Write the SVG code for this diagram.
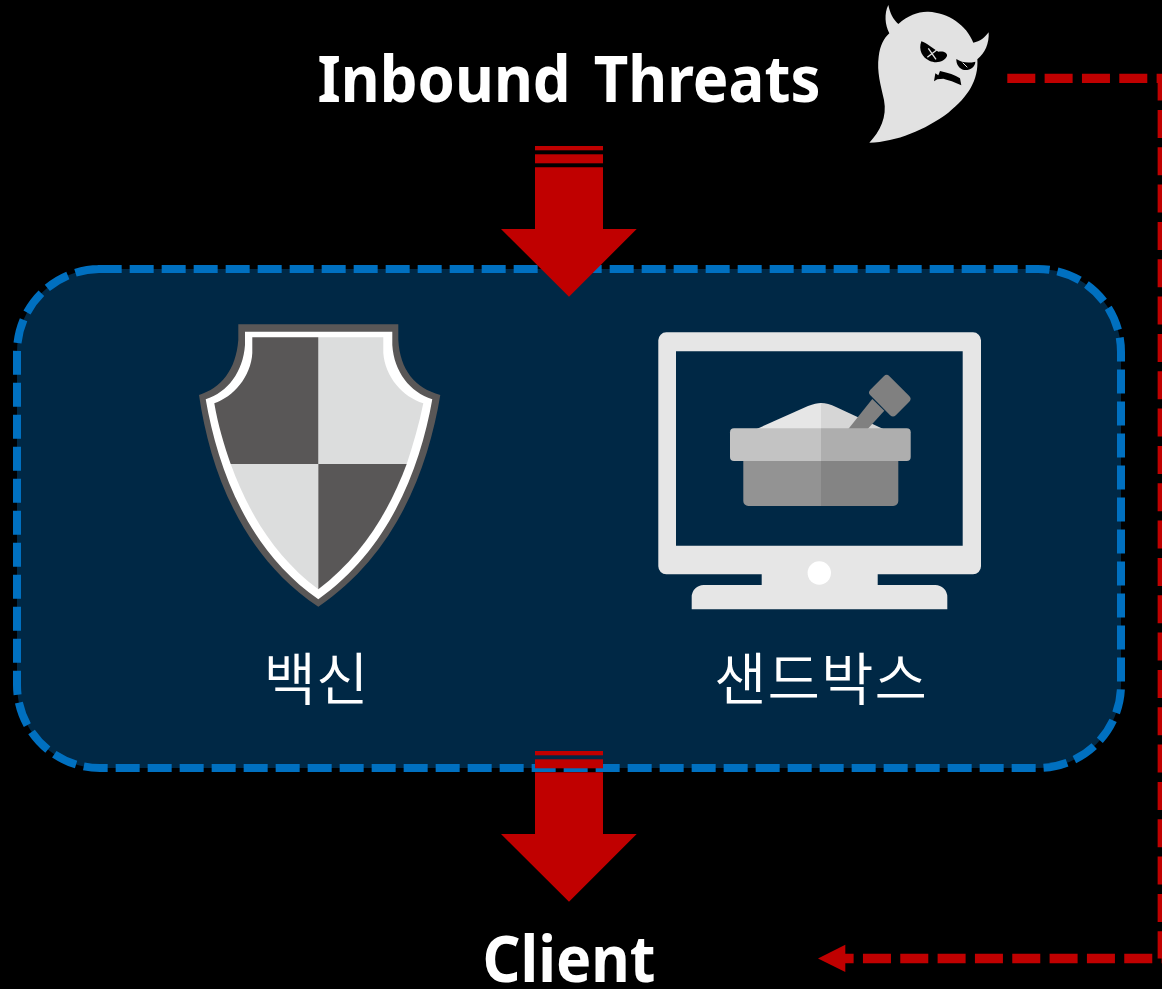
<svg xmlns="http://www.w3.org/2000/svg" width="1162" height="989" viewBox="0 0 1162 989">
<style>
.title{font-family:"Noto Sans","Open Sans","Liberation Sans",sans-serif;font-weight:700;font-size:64px;fill:#fff;text-anchor:middle}
.ko{font-family:"Noto Sans CJK KR","Noto Sans",sans-serif;font-size:57px;font-weight:350;fill:#fff;text-anchor:middle}
.red{fill:#c00000}
.dash{fill:none;stroke:#c00000;stroke-width:9.33;stroke-dasharray:28 9.33}
</style>
<defs>
<g id="blockArrow">
<rect class="red" x="535" y="146" width="68" height="4.3"/>
<rect class="red" x="535" y="154.3" width="68" height="9"/>
<polygon class="red" points="535,167.3 603,167.3 603,229 636.7,229 569,296.7 501,229 535,229"/>
</g>
</defs>
<rect width="1162" height="989" fill="#000"/>
<g id="sandbox-group">
<path d="M97.67,269 H1038 A83,83 0 0 1 1121,352 V685 A83,83 0 0 1 1038,768 H100 A83,83 0 0 1 17,685 V352 A83,83 0 0 1 100,269 Z" fill="#002845" stroke="#0070c0" stroke-width="8" stroke-dasharray="24 8"/>
</g>
<g id="threat-ghost">
<g transform="translate(860,0) scale(.33333)">
<path fill="#e2e2e2" d="M28,428 C60,395 82,350 72,300 C62,255 50,215 56,170 C60,135 72,115 88,100 C75,75 72,40 85,15 C90,40 100,58 115,72 C145,45 175,34 205,35 C265,38 320,75 340,128 C360,125 375,112 386,97 C388,130 375,160 352,178 C356,240 325,290 265,338 C195,390 110,425 28,428 Z"/>
<path fill="#000" d="M184,124 C200,128 217,145 235,155 C250,152 263,158 261,168 C255,184 230,192 208,182 C188,174 174,150 184,124 Z"/>
<path fill="none" stroke="#e2e2e2" stroke-width="4" d="M205,145 L228,178 M230,150 L202,172"/>
<path fill="#000" d="M289,177 C305,188 325,190 346,185 C346,200 330,212 312,210 C298,207 288,192 289,177 Z"/>
<path fill="none" stroke="#e2e2e2" stroke-width="3" d="M308,188 L322,202"/>
<path fill="#000" d="M222,244 L226,220 L235,226 L240,213 C265,218 285,225 300,235 L304,256 C285,246 265,240 250,236 L232,238 Z"/>
</g>
</g>
<g id="antivirus">
<path fill="#595757" d="M238.3,324.3 H398.3 V340 C400,370 415,388 440.3,395 C428,470 395,555 318.3,606.7 C241,555 210,470 199,395 C221,388 236,370 238.3,340 Z"/>
<path fill="#fff" d="M245,331.7 H392.3 V345 C394,372 410,392 432.3,399.3 C420,470 388,550 318.3,599.3 C248,550 218,470 205.7,399.3 C228,392 243,372 245,345 Z"/>
<path fill="#dcdddd" d="M318.3,337.3 H383.3 V353 C385,377 403,397 423.3,403.3 C419,425 413,445 406.7,464 H318.3 Z"/>
<path fill="#595757" d="M252.3,337.3 H318.3 V464 H230.7 C224,445 218,425 214.3,403.3 C233,397 251,377 252.3,353 Z"/>
<path fill="#dcdddd" d="M230.7,464 H318.3 V589.3 C275,557 248,512 230.7,464 Z"/>
<path fill="#595757" d="M318.3,464 H406.7 C389,512 361,557 318.3,589.3 Z"/>
<text class="ko" x="316" y="700">백신</text>
</g>
<g id="sandbox">
<path fill="#e6e6e6" fill-rule="evenodd" d="M666.3,332.3 H973 A8,8 0 0 1 981,340.3 V566.3 A8,8 0 0 1 973,574.3 H877.7 V585 H935.3 A12,12 0 0 1 947.3,597 V609.3 H691.7 V597 A12,12 0 0 1 703.7,585 H761.7 V574.3 H666.3 A8,8 0 0 1 658.3,566.3 V340.3 A8,8 0 0 1 666.3,332.3 Z M676,351.3 V545.7 H962.7 V351.3 Z"/>
<circle cx="819.3" cy="573" r="11.7" fill="#fff"/>
<path fill="#e6e6e6" d="M756.7,429 L808,406 Q816,403 821,403 V429 Z"/>
<path fill="#d6d6d6" d="M821,403 Q828,403 836,407 L883.3,429 H821 Z"/>
<polygon fill="#808080" points="848.3,429 867.7,429 884.3,410.7 872.3,399"/>
<rect x="-18" y="-13.5" width="36" height="27" rx="4" fill="#808080" transform="translate(889.8,395.7) rotate(45)"/>
<path fill="#939393" d="M743.3,461 H821 V506 H748.3 A5,5 0 0 1 743.3,501 Z"/>
<path fill="#848484" d="M821,461 H898.3 V501 A5,5 0 0 1 893.3,506 H821 Z"/>
<path fill="#c3c3c3" d="M734,428.3 H821 V461 H734 A4,4 0 0 1 730,457 V432.3 A4,4 0 0 1 734,428.3 Z"/>
<path fill="#aeaeae" d="M821,428.3 H906.7 A4,4 0 0 1 910.7,432.3 V457 A4,4 0 0 1 906.7,461 H821 Z"/>
<text class="ko" x="821" y="700" letter-spacing="1">샌드박스</text>
</g>
<g id="label-inbound"><text class="title" x="569" y="102" word-spacing="8" textLength="503" lengthAdjust="spacingAndGlyphs">Inbound Threats</text></g>
<g id="label-client"><text class="title" x="569" y="982" textLength="173" lengthAdjust="spacingAndGlyphs">Client</text></g>
<g id="connectors">
<use href="#blockArrow"/>
<use href="#blockArrow" transform="translate(0,605)"/>
<path class="dash" d="M1007.3,78.3 H1162.3 V958.5 H845"/>
<polygon class="red" points="818,958.5 845.3,944.7 845.3,972"/>
</g>
</svg>
